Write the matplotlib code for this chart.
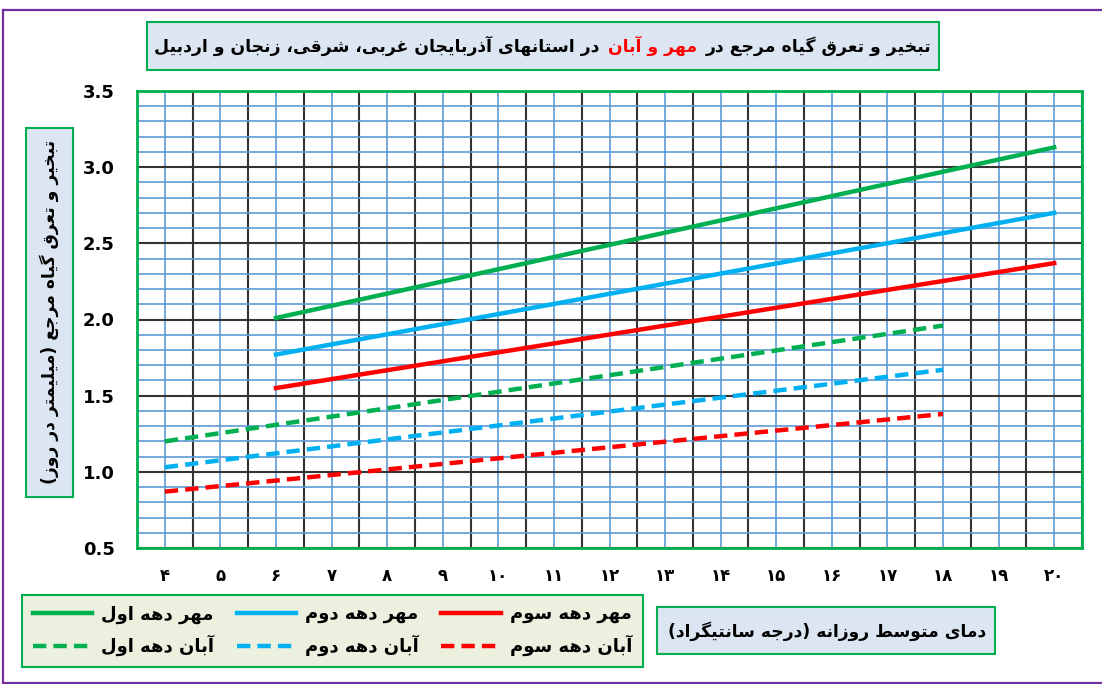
import matplotlib
matplotlib.use("Agg")
import matplotlib.pyplot as plt
from matplotlib.ticker import MultipleLocator
from matplotlib.offsetbox import TextArea, HPacker, AnnotationBbox
from matplotlib.patches import Rectangle
from matplotlib.lines import Line2D

# data (temperature in C, ET0 in mm/day)
temp_mehr = [6, 20]
mehr_1 = [2.01, 3.13]
mehr_2 = [1.77, 2.70]
mehr_3 = [1.55, 2.37]

temp_aban = [4, 18]
aban_1 = [1.20, 1.96]
aban_2 = [1.03, 1.67]
aban_3 = [0.87, 1.38]

x_ticks = list(range(4, 21))
x_tick_labels = ["۴", "۵", "۶", "۷", "۸", "۹", "۱۰", "۱۱", "۱۲", "۱۳", "۱۴",
                 "۱۵", "۱۶", "۱۷", "۱۸", "۱۹", "۲۰"]

title_a = "تبخیر و تعرق گیاه مرجع در"
title_b = "مهر و آبان"
title_c = "در استانهای آذربایجان غربی، شرقی، زنجان و اردبیل"
y_title = "تبخیر و تعرق گیاه مرجع (میلیمتر در روز)"
x_title = "دمای متوسط روزانه (درجه سانتیگراد)"
labels = ["مهر دهه اول", "آبان دهه اول", "مهر دهه دوم",
          "آبان دهه دوم", "مهر دهه سوم", "آبان دهه سوم"]

# matplotlib has no arabic shaping, so pick the contextual forms by hand
# (isolated, final, initial, medial)
FORMS = {
    "ا": (0xFE8D, 0xFE8E, None, None),
    "آ": (0xFE81, 0xFE82, None, None),
    "ب": (0xFE8F, 0xFE90, 0xFE91, 0xFE92),
    "ت": (0xFE95, 0xFE96, 0xFE97, 0xFE98),
    "ج": (0xFE9D, 0xFE9E, 0xFE9F, 0xFEA0),
    "خ": (0xFEA5, 0xFEA6, 0xFEA7, 0xFEA8),
    "د": (0xFEA9, 0xFEAA, None, None),
    "ذ": (0xFEAB, 0xFEAC, None, None),
    "ر": (0xFEAD, 0xFEAE, None, None),
    "ز": (0xFEAF, 0xFEB0, None, None),
    "س": (0xFEB1, 0xFEB2, 0xFEB3, 0xFEB4),
    "ش": (0xFEB5, 0xFEB6, 0xFEB7, 0xFEB8),
    "ط": (0xFEC1, 0xFEC2, 0xFEC3, 0xFEC4),
    "ع": (0xFEC9, 0xFECA, 0xFECB, 0xFECC),
    "غ": (0xFECD, 0xFECE, 0xFECF, 0xFED0),
    "ق": (0xFED5, 0xFED6, 0xFED7, 0xFED8),
    "ل": (0xFEDD, 0xFEDE, 0xFEDF, 0xFEE0),
    "م": (0xFEE1, 0xFEE2, 0xFEE3, 0xFEE4),
    "ن": (0xFEE5, 0xFEE6, 0xFEE7, 0xFEE8),
    "ه": (0xFEE9, 0xFEEA, 0xFEEB, 0xFEEC),
    "و": (0xFEED, 0xFEEE, None, None),
    "ی": (0xFBFC, 0xFBFD, 0xFBFE, 0xFBFF),
    "گ": (0xFB92, 0xFB93, 0xFB94, 0xFB95),
}


def shape(text):
    out = []
    for i, ch in enumerate(text):
        if ch not in FORMS:
            out.append(ch)
            continue
        f = FORMS[ch]
        prev = text[i - 1] if i > 0 else ""
        nxt = text[i + 1] if i < len(text) - 1 else ""
        jp = prev in FORMS and FORMS[prev][2] is not None
        jn = f[2] is not None and nxt in FORMS
        if jp and jn:
            code = f[3]
        elif jp:
            code = f[1]
        elif jn:
            code = f[2]
        else:
            code = f[0]
        out.append(chr(code))
    mirror = {"(": ")", ")": "("}
    return "".join(mirror.get(c, c) for c in reversed(out))


plt.rcParams["font.family"] = ["DejaVu Sans"]
plt.rcParams["font.weight"] = "bold"

W, H = 1102, 684
fig = plt.figure(figsize=(W / 100, H / 100), dpi=100)


def fx(px):
    return px / W


def fy(py):
    return 1 - py / H


ax = fig.add_axes([fx(137), fy(548), fx(1082) - fx(137), fy(91) - fy(548)])

green = "#00b050"
blue = "#00b0f0"
red = "#ff0000"
dash = (0, (3, 1.6))

ax.plot(temp_mehr, mehr_1, color=green, lw=3.2, label=shape(labels[0]))
ax.plot(temp_aban, aban_1, color=green, lw=3.2, ls=dash, label=shape(labels[1]))
ax.plot(temp_mehr, mehr_2, color=blue, lw=3.2, label=shape(labels[2]))
ax.plot(temp_aban, aban_2, color=blue, lw=3.2, ls=dash, label=shape(labels[3]))
ax.plot(temp_mehr, mehr_3, color=red, lw=3.2, label=shape(labels[4]))
ax.plot(temp_aban, aban_3, color=red, lw=3.2, ls=dash, label=shape(labels[5]))

ax.set_xlim(3.5, 20.5)
ax.set_ylim(0.5, 3.5)
ax.set_xticks(x_ticks)
ax.set_xticklabels(x_tick_labels, fontsize=12, fontweight="bold")
ax.xaxis.set_minor_locator(MultipleLocator(1, offset=0.5))
ax.yaxis.set_major_locator(MultipleLocator(0.5))
ax.yaxis.set_minor_locator(MultipleLocator(0.1))
ax.yaxis.set_major_formatter(lambda v, p: "%.1f" % v)
ax.tick_params(which="both", length=0)
ax.tick_params(axis="y", pad=16, labelsize=13)
ax.tick_params(axis="x", pad=14)

ax.set_axisbelow(True)
ax.grid(which="major", axis="x", color="#5b9bd5", lw=1.2)
ax.grid(which="minor", axis="x", color="#333333", lw=1.5)
ax.grid(which="minor", axis="y", color="#5b9bd5", lw=1.2)
ax.grid(which="major", axis="y", color="#333333", lw=1.5)
for s in ax.spines.values():
    s.set_color(green)
    s.set_linewidth(2)

# purple frame (left, top, bottom; the right side is off the picture)
purple = "#7030a0"
fig.add_artist(Line2D([fx(3), fx(3)], [fy(10), fy(683)], color=purple, lw=1.6))
fig.add_artist(Line2D([fx(3), 1], [fy(10), fy(10)], color=purple, lw=1.6))
fig.add_artist(Line2D([fx(3), 1], [fy(683), fy(683)], color=purple, lw=1.6))

# title box
fig.patches.append(Rectangle((fx(147), fy(70)), fx(939) - fx(147), fy(22) - fy(70),
                             transform=fig.transFigure, facecolor="#dce6f2",
                             edgecolor=green, lw=1.5))
tp = dict(fontsize=12.4, fontweight="bold")
pack = HPacker(children=[TextArea(shape(title_c), textprops=dict(tp, color="black")),
                         TextArea(shape(title_b), textprops=dict(tp, color=red)),
                         TextArea(shape(title_a), textprops=dict(tp, color="black"))],
               sep=6, pad=0, align="baseline")
ab = AnnotationBbox(pack, (fx(543), fy(46)), xycoords="figure fraction",
                    frameon=False, box_alignment=(0.5, 0.5))
fig.add_artist(ab)

# y title box
fig.patches.append(Rectangle((fx(26), fy(497)), fx(73) - fx(26), fy(128) - fy(497),
                             transform=fig.transFigure, facecolor="#dce6f2",
                             edgecolor=green, lw=1.5))
fig.text(fx(49.5), fy(312), shape(y_title), rotation=90, ha="center", va="center",
         fontsize=12.3, fontweight="bold")

# x title box
fig.patches.append(Rectangle((fx(657), fy(654)), fx(995) - fx(657), fy(607) - fy(654),
                             transform=fig.transFigure, facecolor="#dce6f2",
                             edgecolor=green, lw=1.5))
fig.text(fx(827), fy(631), shape(x_title), ha="center", va="center",
         fontsize=12.3, fontweight="bold")

leg = ax.legend(loc="lower left", ncol=3, mode="expand",
                bbox_to_anchor=(fx(13), fy(676), fx(652) - fx(13), fy(605) - fy(676)),
                bbox_transform=fig.transFigure, fancybox=False, framealpha=1,
                facecolor="#ebf1de", edgecolor=green, handlelength=3.3,
                handletextpad=0.5, labelspacing=0.6, borderpad=0.6,
                prop=dict(size=13, weight="bold"))
leg.get_frame().set_linewidth(1.5)

fig.savefig("out.png", dpi=100)
